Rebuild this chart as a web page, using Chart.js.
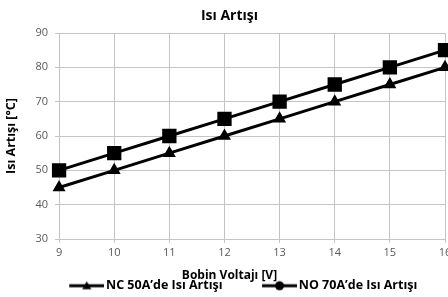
<!DOCTYPE html>
<html>
<head>
<meta charset="utf-8">
<script src="https://cdn.jsdelivr.net/npm/chart.js@4/dist/chart.umd.min.js"></script>
<style>
  html, body { margin: 0; padding: 0; background: #fff; overflow: hidden; }
  #wrap { width: 456px; height: 297px; }
</style>
</head>
<body>
<div id="wrap"><canvas id="chart"></canvas></div>
<script>
// --- Data ---
const voltages = ['9', '10', '11', '12', '13', '14', '15', '16'];
const nc50Values = [45, 50, 55, 60, 65, 70, 75, 80];
const no70Values = [50, 55, 60, 65, 70, 75, 80, 85];
const yTicks = [30, 40, 50, 60, 70, 80, 90];

const gridGray = '#c4c4c4';
const tickGray = '#595959';
const fontFamily = '"Open Sans", sans-serif';

// legend sample: line with marker, drawn in the right part of a small canvas
function legendSample(kind) {
    const c = document.createElement('canvas');
    c.width = 67; c.height = 12;
    const g = c.getContext('2d');
    g.strokeStyle = '#000';
    g.lineWidth = 3;
    g.beginPath(); g.moveTo(32, 6); g.lineTo(67, 6); g.stroke();
    g.fillStyle = '#000';
    if (kind === 'triangle') {
        g.beginPath(); g.moveTo(49.5, 1.5); g.lineTo(54, 9.5); g.lineTo(45, 9.5); g.closePath(); g.fill();
    } else {
        g.beginPath(); g.arc(49.5, 6, 4.5, 0, Math.PI * 2); g.fill();
    }
    return c;
}
const legendImages = [legendSample('triangle'), legendSample('circle')];

new Chart(document.getElementById('chart'), {
    type: 'line',
    data: {
        labels: voltages,
        datasets: [
            {
                label: 'NC 50A\u2019de Isı Artışı',
                data: nc50Values,
                borderColor: '#000', backgroundColor: '#000',
                borderWidth: 3, pointStyle: 'triangle', pointRadius: 4.5, pointHoverRadius: 4.5,
                tension: 0
            },
            {
                label: 'NO 70A\u2019de Isı Artışı',
                data: no70Values,
                borderColor: '#000', backgroundColor: '#000',
                borderWidth: 3, pointStyle: 'rect', pointRadius: 8, pointHoverRadius: 8,
                tension: 0
            }
        ]
    },
    options: {
        responsive: true,
        maintainAspectRatio: false,
        animation: false,
        clip: false,
        layout: { padding: { left: 3, right: 0, top: 0, bottom: -5 } },
        plugins: {
            tooltip: { enabled: false },
            title: {
                display: true, text: 'Isı Artışı', color: '#000',
                font: { family: fontFamily, size: 14, weight: 'bold', lineHeight: 1.2 },
                padding: { top: 7.6, bottom: 8.6 }
            },
            subtitle: {
                display: true, text: 'Bobin Voltajı [V]', position: 'bottom', weight: 500,
                color: '#000',
                font: { family: fontFamily, size: 12, weight: 'bold', lineHeight: 1 },
                padding: { top: 7.8, bottom: -14.5 }
            },
            legend: {
                position: 'bottom',
                labels: {
                    color: '#000',
                    font: { family: fontFamily, size: 12.5, weight: 'bold' },
                    usePointStyle: true,
                    pointStyleWidth: 58,
                    padding: 12,
                    generateLabels(chart) {
                        const items = Chart.defaults.plugins.legend.labels.generateLabels(chart);
                        items.forEach((it, i) => { it.pointStyle = legendImages[i]; });
                        return items;
                    }
                }
            }
        },
        scales: {
            x: {
                type: 'category',
                offset: false,
                grid: { color: gridGray, lineWidth: 1, tickLength: 4 },
                border: { color: gridGray },
                ticks: { color: tickGray, font: { family: fontFamily, size: 11 }, padding: 3, maxRotation: 0 }
            },
            y: {
                min: 30, max: 90,
                afterBuildTicks(scale) { scale.ticks = yTicks.map(v => ({ value: v })); },
                grid: { color: gridGray, lineWidth: 1, tickLength: 4 },
                border: { color: gridGray },
                ticks: { color: tickGray, font: { family: fontFamily, size: 11 }, padding: 7 },
                title: {
                    display: true, text: 'Isı Artışı [°C]', color: '#000',
                    font: { family: fontFamily, size: 12.5, weight: 'bold' },
                    padding: { top: 0.5, bottom: 10 }
                }
            }
        }
    }
});
</script>
</body>
</html>
